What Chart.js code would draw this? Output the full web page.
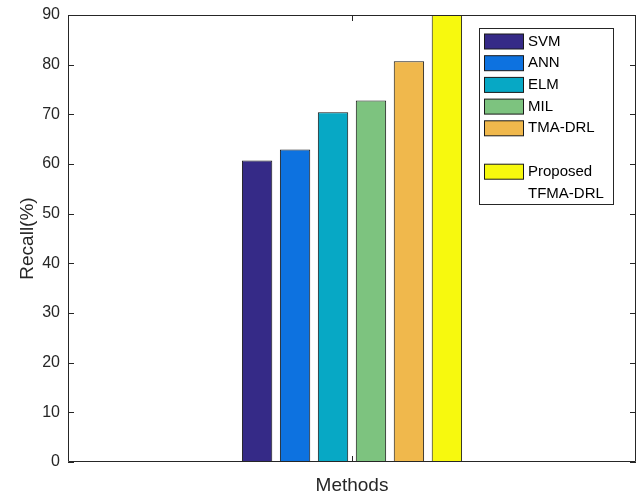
<!DOCTYPE html>
<html>
<head>
<meta charset="utf-8">
<script src="https://cdn.jsdelivr.net/npm/chart.js@4"></script>
<style>
  html, body { margin: 0; padding: 0; background: #fff; }
  #wrap { width: 642px; height: 497px; }
</style>
</head>
<body>
<div id="wrap"><canvas id="recallChart" width="642" height="497"></canvas></div>
<script>
// --- data ---
const methods = ['SVM', 'ANN', 'ELM', 'MIL', 'TMA-DRL', 'Proposed TFMA-DRL'];
const recall = [60.7, 62.9, 70.4, 72.8, 80.7, 90];
const barColors = ['#352a87', '#0d72e0', '#07a8c5', '#7dc37f', '#f0b84c', '#f7f90e'];
const yTicks = [0, 10, 20, 30, 40, 50, 60, 70, 80, 90];

const FONT = "'Liberation Sans', Arial, sans-serif";
const INK = '#262626';

// frame + inward ticks like matlab
const framePlugin = {
    id: 'frame',
    afterDatasetsDraw(chart) {
        const { ctx, chartArea: a, scales } = chart;
        ctx.save();
        ctx.strokeStyle = INK;
        ctx.lineWidth = 1;
        ctx.beginPath();
        ctx.rect(Math.round(a.left) + 0.5, Math.round(a.top) + 0.5,
                 Math.round(a.right - a.left) - 1, Math.round(a.bottom - a.top) - 1);
        for (const v of yTicks) {
            const y = Math.round(scales.y.getPixelForValue(v)) + 0.5;
            ctx.moveTo(a.left, y); ctx.lineTo(a.left + 6, y);
            ctx.moveTo(a.right, y); ctx.lineTo(a.right - 6, y);
        }
        const x = Math.round(scales.x.getPixelForValue(0)) + 0.5;
        ctx.moveTo(x, a.bottom); ctx.lineTo(x, a.bottom - 6);
        ctx.moveTo(x, a.top); ctx.lineTo(x, a.top + 6);
        ctx.stroke();
        ctx.restore();
    }
};

// legend box drawn by hand (matlab style, with the blank row)
const legendPlugin = {
    id: 'boxLegend',
    afterDraw(chart) {
        const ctx = chart.ctx;
        const bx = 479.5, by = 28.5, bw = 134, bh = 176;
        ctx.save();
        ctx.fillStyle = '#fff';
        ctx.fillRect(bx, by, bw, bh);
        ctx.strokeStyle = INK;
        ctx.lineWidth = 1;
        ctx.strokeRect(bx, by, bw, bh);
        ctx.font = '15px ' + FONT;
        ctx.textBaseline = 'middle';
        ctx.fillStyle = '#000';
        const rowH = 21.7;
        chart.data.datasets.forEach((ds, i) => {
            const row = i < 5 ? i : i + 1; // empty row before the last entry
            const cy = 41.5 + row * rowH;
            ctx.fillStyle = ds.backgroundColor;
            ctx.fillRect(484.5, cy - 7.5, 39, 15);
            ctx.strokeStyle = '#1a1a1a';
            ctx.strokeRect(484.5, cy - 7.5, 39, 15);
            ctx.fillStyle = '#000';
            const parts = i === 5 ? ['Proposed', 'TFMA-DRL'] : [ds.label];
            parts.forEach((t, k) => ctx.fillText(t, 528, cy + k * rowH));
        });
        ctx.restore();
    }
};

const datasets = methods.map((m, i) => ({
    label: m,
    data: [recall[i]],
    backgroundColor: barColors[i],
    borderColor: '#141414',
    borderWidth: 1,
    borderSkipped: false,
    categoryPercentage: 0.401,
    barPercentage: 0.8
}));

new Chart(document.getElementById('recallChart'), {
    type: 'bar',
    data: { labels: [''], datasets },
    plugins: [framePlugin, legendPlugin],
    options: {
        responsive: false,
        animation: false,
        devicePixelRatio: 1,
        layout: { padding: { left: 0, right: 6, top: 15, bottom: 0 } },
        plugins: { legend: { display: false }, tooltip: { enabled: false } },
        scales: {
            x: {
                grid: { display: false, drawTicks: false },
                border: { display: false },
                ticks: { display: false },
                title: { display: true, text: 'Methods', color: INK,
                         font: { family: FONT, size: 19 }, padding: { top: 0, bottom: 0 } },
                afterFit: s => { s.height = 35; s.paddingLeft = 0; s.paddingRight = 0; }
            },
            y: {
                min: 0, max: 90,
                grid: { display: false, drawTicks: false },
                border: { display: false },
                ticks: { stepSize: 10, color: INK, padding: 8,
                         font: { family: FONT, size: 16 } },
                title: { display: true, text: 'Recall(%)', color: INK,
                         font: { family: FONT, size: 19 }, padding: { top: 16, bottom: 0 } },
                afterFit: s => { s.width = 68; s.paddingTop = 0; s.paddingBottom = 0; }
            }
        }
    }
});
</script>
</body>
</html>
